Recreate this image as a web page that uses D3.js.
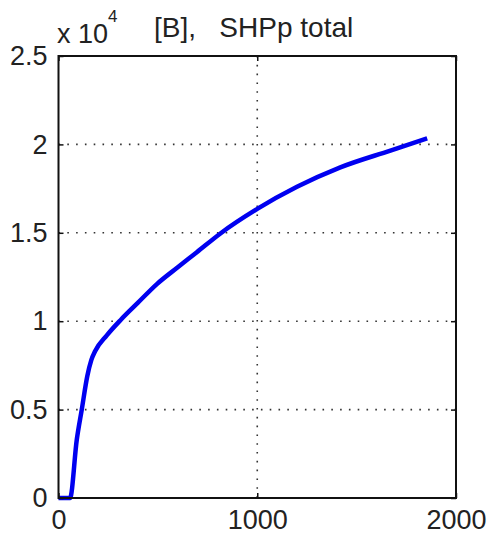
<!DOCTYPE html>
<html>
<head>
<meta charset="utf-8">
<script src="https://cdn.jsdelivr.net/npm/d3@7"></script>
<style>
  body { margin: 0; background: #fff; }
  text { font-family: "Liberation Sans", Arial, sans-serif; fill: #222; }
</style>
</head>
<body>
<svg id="chart" width="490" height="534"></svg>
<script>
// SHPp total curve
var shpX = [0, 58, 92, 117, 145, 165, 184, 243, 315, 400, 495, 600, 696, 813, 1000, 1200, 1418, 1670, 1855];
var shpY = [0, 0, 3300, 5000, 6900, 7800, 8300, 9200, 10100, 11050, 12100, 13050, 13900, 14950, 16350, 17600, 18700, 19650, 20340];

var xTicks = [0, 1000, 2000];
var yTicks = [0, 5000, 10000, 15000, 20000, 25000];
var yTickLabels = ["0", "0.5", "1", "1.5", "2", "2.5"];
var titleText = "[B],   SHPp total";

var svg = d3.select("#chart");

// plot box edges (window.top is taken, so own names)
var boxL = 58.5, boxR = 456, boxT = 56, boxB = 498;

var x = d3.scaleLinear().domain([0, 2000]).range([boxL, boxR]);
var y = d3.scaleLinear().domain([0, 25000]).range([boxB, boxT]);

//dotted grid, only inner lines
svg.selectAll(".vgrid")
    .data(xTicks.filter(d => d > 0 && d < 2000)).enter()
    .append("line")
    .attr("class", "vgrid")
    .attr("x1", d => x(d)).attr("x2", d => x(d))
    .attr("y1", boxT).attr("y2", boxB)
    .attr("stroke", "#333")
    .attr("stroke-width", 1.6)
    .attr("stroke-dasharray", "1.6,7.2");

svg.selectAll(".hgrid")
    .data(yTicks.filter(d => d > 0 && d < 25000)).enter()
    .append("line")
    .attr("class", "hgrid")
    .attr("x1", boxL).attr("x2", boxR)
    .attr("y1", d => y(d)).attr("y2", d => y(d))
    .attr("stroke", "#333")
    .attr("stroke-width", 1.6)
    .attr("stroke-dasharray", "1.6,7.2");

//the curve
var pts = shpX.map((v, i) => [v, shpY[i]]);
svg.append("path")
    .datum(pts)
    .attr("fill", "none")
    .attr("stroke", "#0000f0")
    .attr("stroke-width", 4.5)
    .attr("stroke-linejoin", "round")
    .attr("d", d3.line().x(d => x(d[0])).y(d => y(d[1])).curve(d3.curveMonotoneX));

//axes with inward ticks, matlab style
var xAxis = svg.append("g")
    .attr("transform", "translate(0," + boxB + ")")
    .call(d3.axisBottom(x).tickValues(xTicks).tickSize(-5).tickPadding(12).tickFormat(d3.format("d")));
var xTop = svg.append("g")
    .attr("transform", "translate(0," + boxT + ")")
    .call(d3.axisTop(x).tickValues(xTicks).tickSize(-5).tickFormat(""));
var yAxis = svg.append("g")
    .attr("transform", "translate(" + boxL + ",0)")
    .call(d3.axisLeft(y).tickValues(yTicks).tickSize(-5).tickPadding(11).tickFormat((d, i) => yTickLabels[i]));
var yRight = svg.append("g")
    .attr("transform", "translate(" + boxR + ",0)")
    .call(d3.axisRight(y).tickValues(yTicks).tickSize(-5).tickFormat(""));

[xAxis, xTop, yAxis, yRight].forEach(g => {
    g.select(".domain").remove();
    g.selectAll(".tick line").attr("stroke", "#111").attr("stroke-width", 1.5);
    g.selectAll("text")
        .attr("fill", "#222")
        .style("font-size", "27px")
        .style("font-family", "'Liberation Sans', Arial, sans-serif");
});
xAxis.selectAll("text").attr("dy", "0.71em");

//box
svg.append("rect")
    .attr("x", boxL).attr("y", boxT)
    .attr("width", boxR - boxL).attr("height", boxB - boxT)
    .attr("fill", "none")
    .attr("stroke", "#111")
    .attr("stroke-width", 2);

//exponent label and title
var expo = svg.append("text")
    .attr("x", 57)
    .attr("y", 43)
    .style("font-size", "27px");
expo.append("tspan").text("x 10");
expo.append("tspan")
    .attr("dy", -21)
    .style("font-size", "17px")
    .text("4");

svg.append("text")
    .attr("x", 154)
    .attr("y", 37)
    .attr("xml:space", "preserve")
    .style("white-space", "pre")
    .style("font-size", "28px")
    .text(titleText);
</script>
</body>
</html>
